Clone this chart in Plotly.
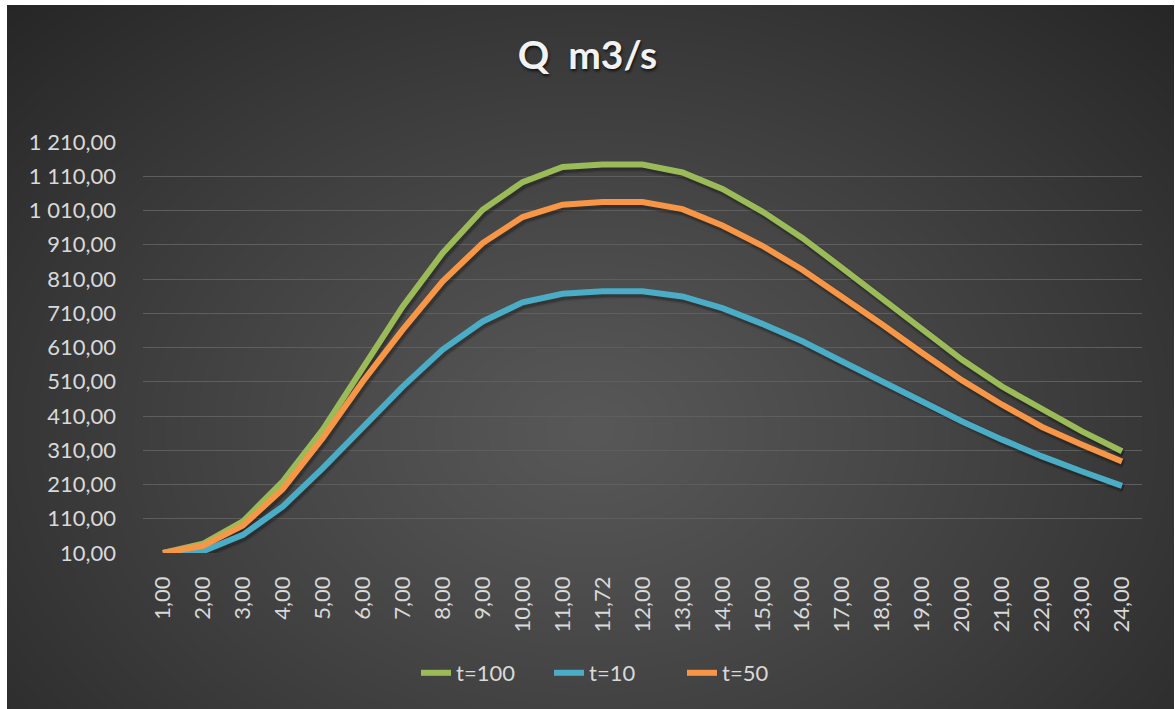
import base64
import struct
import zlib

import numpy as np
import plotly.graph_objects as go

# ---- data ----------------------------------------------------------------
categories = ["1,00", "2,00", "3,00", "4,00", "5,00", "6,00", "7,00", "8,00",
              "9,00", "10,00", "11,00", "11,72", "12,00", "13,00", "14,00",
              "15,00", "16,00", "17,00", "18,00", "19,00", "20,00", "21,00",
              "22,00", "23,00", "24,00"]

q_t100 = [10, 37, 102, 219, 370, 547, 730, 886, 1012, 1093, 1137, 1144, 1144,
          1121, 1073, 1007, 930, 842, 752, 662, 574, 496, 428, 365, 307]
q_t10 = [10, 15, 63, 146, 258, 380, 496, 604, 686, 742, 767, 774, 774,
         759, 725, 679, 628, 569, 511, 453, 394, 341, 292, 248, 206]
q_t50 = [10, 31, 90, 197, 346, 511, 662, 803, 915, 991, 1027, 1035, 1035,
         1014, 966, 907, 837, 759, 677, 594, 514, 443, 378, 326, 277]

y_tick_values = [10, 110, 210, 310, 410, 510, 610, 710, 810, 910, 1010, 1110, 1210]
y_tick_labels = ["10,00", "110,00", "210,00", "310,00", "410,00", "510,00",
                 "610,00", "710,00", "810,00", "910,00", "1 010,00",
                 "1 110,00", "1 210,00"]

# ---- page geometry -------------------------------------------------------
W, H = 1175, 709
M_L, M_R, M_T, M_B = 143, 33, 142, 156
PW, PH = W - M_L - M_R, H - M_T - M_B
X_RANGE = [-0.5, len(categories) - 0.5]
Y_RANGE = [10, 1210]

# drop-shadow offset (pixels right / down), expressed in axis units
SH_DX, SH_DY = 1.5, 2.5
sh_dx = SH_DX * (X_RANGE[1] - X_RANGE[0]) / PW
sh_dy = SH_DY * (Y_RANGE[1] - Y_RANGE[0]) / PH


def png_data_uri(rgb):
    """Encode an HxWx3 uint8 array as a PNG data URI."""
    h, w, _ = rgb.shape
    raw = b"".join(b"\x00" + rgb[r].tobytes() for r in range(h))

    def chunk(tag, data):
        body = tag + data
        return struct.pack(">I", len(data)) + body + struct.pack(">I", zlib.crc32(body) & 0xFFFFFFFF)

    png = (b"\x89PNG\r\n\x1a\n"
           + chunk(b"IHDR", struct.pack(">IIBBBBB", w, h, 8, 2, 0, 0, 0))
           + chunk(b"IDAT", zlib.compress(raw, 9))
           + chunk(b"IEND", b""))
    return "data:image/png;base64," + base64.b64encode(png).decode()


# dark radial backdrop with a thin white frame on the left/top edges
yy, xx = np.mgrid[0:H, 0:W].astype(float)
cx, cy = 590.0, 430.0
d = np.sqrt(((xx - cx) / 585.0) ** 2 + ((yy - cy) / 430.0) ** 2) / np.sqrt(2)
d = np.clip(d, 0, 1)
shade = 88 - (88 - 38) * d ** 1.1
bg = np.repeat(shade[:, :, None], 3, axis=2).astype(np.uint8)
bg[:5, :, :] = 255
bg[:, :7, :] = 255
bg[:, W - 1:, :] = 255
bg_uri = png_data_uri(bg)

FONT = "Lato"
TXT = "#d9d9d9"
TICK_SIZE = 22

series = [("t=100", q_t100, "#9BBB59"),
          ("t=10", q_t10, "#4BACC6"),
          ("t=50", q_t50, "#F79646")]

fig = go.Figure()
# soft shadows on a hidden, slightly shifted pair of axes
for name, vals, col in series:
    for w, a in [(10, 0.10), (7, 0.22)]:
        fig.add_trace(go.Scatter(
            x=categories, y=vals, mode="lines", showlegend=False,
            hoverinfo="skip", xaxis="x", yaxis="y",
            line=dict(color=f"rgba(0,0,0,{a})", width=w),
        ))
# the series themselves on the visible axes
for name, vals, col in series:
    fig.add_trace(go.Scatter(
        x=categories, y=vals, name=name, mode="lines",
        xaxis="x2", yaxis="y2",
        line=dict(color=col, width=6),
    ))

fig.update_layout(
    width=W, height=H,
    margin=dict(l=M_L, r=M_R, t=M_T, b=M_B, pad=0),
    paper_bgcolor="rgba(0,0,0,0)",
    plot_bgcolor="rgba(0,0,0,0)",
    font=dict(family=FONT, color=TXT, size=TICK_SIZE),
    title=dict(
        text="<b>Q  m3/s</b>",
        x=0.5, xref="container", xanchor="center",
        y=1 - 55 / H, yref="container", yanchor="middle",
        font=dict(family=FONT, size=39, color="#f2f2f2",
                  shadow="1px 2px 3px rgba(0,0,0,0.7)"),
    ),
    showlegend=True,
    legend=dict(
        orientation="h",
        x=0.5 + 28 / W, xref="container", xanchor="center",
        y=1 - 673 / H, yref="container", yanchor="middle",
        font=dict(family=FONT, size=TICK_SIZE, color=TXT),
        bgcolor="rgba(0,0,0,0)",
        itemwidth=30,
        entrywidth=88,
        traceorder="normal",
    ),
    xaxis=dict(
        type="category",
        range=[X_RANGE[0] - sh_dx, X_RANGE[1] - sh_dx],
        visible=False,
    ),
    yaxis=dict(
        range=[Y_RANGE[0] + sh_dy, Y_RANGE[1] + sh_dy],
        visible=False,
    ),
    xaxis2=dict(
        type="category",
        overlaying="x",
        side="bottom",
        range=X_RANGE,
        tickangle=-90,
        showgrid=False,
        zeroline=False,
        showline=False,
        ticks="",
        ticklabelstandoff=18,
        tickfont=dict(family=FONT, size=TICK_SIZE, color=TXT),
    ),
    yaxis2=dict(
        overlaying="y",
        side="left",
        range=Y_RANGE,
        tickmode="array",
        tickvals=y_tick_values,
        ticktext=y_tick_labels,
        showgrid=True,
        gridcolor="#5e5e5e",
        gridwidth=1,
        zeroline=False,
        showline=False,
        ticks="",
        ticklabelstandoff=26,
        tickfont=dict(family=FONT, size=TICK_SIZE, color=TXT),
    ),
    images=[dict(
        source=bg_uri,
        xref="paper", yref="paper",
        x=-M_L / PW, y=1 + M_T / PH,
        sizex=W / PW, sizey=H / PH,
        xanchor="left", yanchor="top",
        sizing="stretch", layer="below",
    )],
)

fig.write_html("out.html")
